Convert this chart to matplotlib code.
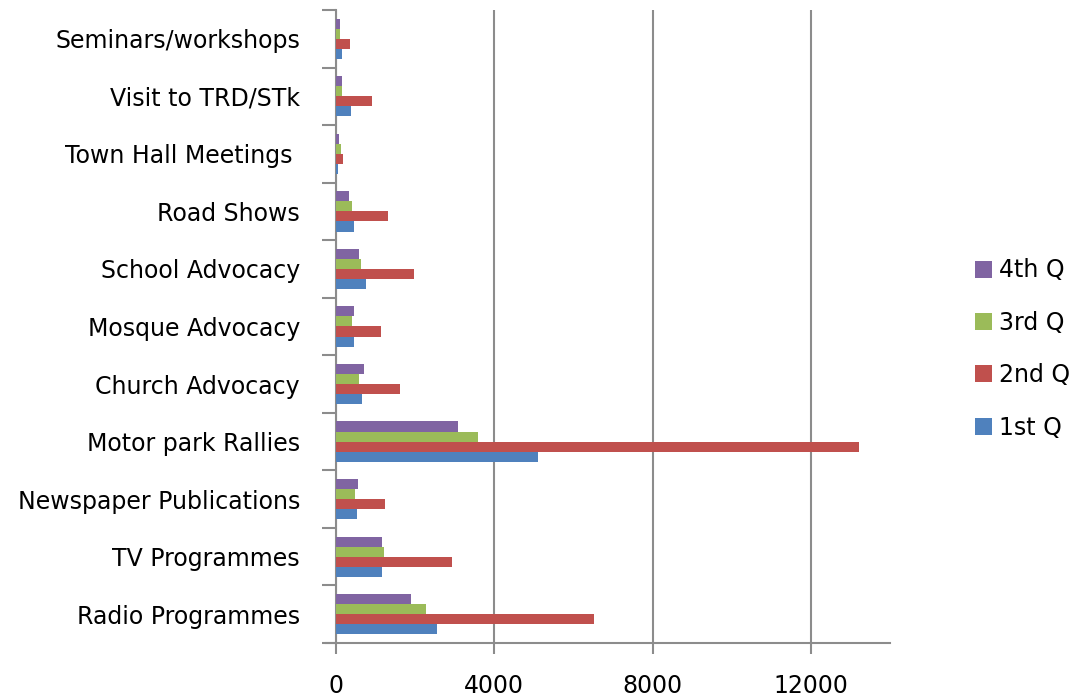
import numpy as np
import matplotlib.pyplot as plt
from matplotlib.ticker import FixedLocator

categories = ['Radio Programmes', 'TV Programmes', 'Newspaper Publications',
              'Motor park Rallies', 'Church Advocacy', 'Mosque Advocacy',
              'School Advocacy', 'Road Shows', 'Town Hall Meetings ',
              'Visit to TRD/STk', 'Seminars/workshops']

q1 = [2560, 1160, 520, 5110, 665, 450, 760, 465, 60, 390, 160]
q2 = [6520, 2940, 1240, 13220, 1625, 1145, 1970, 1305, 175, 900, 350]
q3 = [2275, 1220, 480, 3590, 580, 405, 640, 405, 125, 160, 110]
q4 = [1905, 1160, 565, 3090, 710, 450, 580, 340, 75, 160, 90]

series = [('1st Q', q1, '#4F81BD'), ('2nd Q', q2, '#C0504D'),
          ('3rd Q', q3, '#9BBB59'), ('4th Q', q4, '#8064A2')]

plt.rcParams['font.family'] = ['DejaVu Sans']

fig = plt.figure(figsize=(10.86, 6.98), dpi=100)
ax = fig.add_axes([0.3094, 0.0788, 0.8195 - 0.3094, 0.9857 - 0.0788])

y = np.arange(len(categories))
h = 0.175
handles = []
for i, (name, vals, col) in enumerate(series):
    b = ax.barh(y + (i - 1.5) * h, vals, height=h, color=col, label=name, zorder=3)
    handles.append(b)

ax.set_xlim(0, 14000)
ax.set_ylim(-0.5, len(categories) - 0.5)
ax.set_xticks([0, 4000, 8000, 12000])
ax.set_xticklabels(['0', '4000', '8000', '12000'], fontsize=17)
ax.tick_params(axis='x', length=8, width=1.5, color='#8c8c8c', pad=14)
ax.xaxis.grid(True, color='#8c8c8c', linewidth=1.5, zorder=0)

ax.set_yticks(y)
ax.set_yticklabels(categories, fontsize=17)
ax.tick_params(axis='y', which='major', length=0, pad=26)
ax.yaxis.set_minor_locator(FixedLocator(np.arange(-0.5, len(categories), 1.0)))
ax.tick_params(axis='y', which='minor', length=10, width=1.5, color='#8c8c8c')

for s in ['top', 'right']:
    ax.spines[s].set_visible(False)
for s in ['left', 'bottom']:
    ax.spines[s].set_color('#8c8c8c')
    ax.spines[s].set_linewidth(1.5)
ax.spines['bottom'].set_bounds(-250, 14000)

leg = fig.legend(handles[::-1], [s[0] for s in series][::-1], loc='center left',
                 bbox_to_anchor=(0.898, 0.5), frameon=False, fontsize=17,
                 handlelength=0.72, handleheight=0.72, labelspacing=1.2,
                 handletextpad=0.3, borderaxespad=0, borderpad=0)

fig.savefig('out.png', dpi=100)
